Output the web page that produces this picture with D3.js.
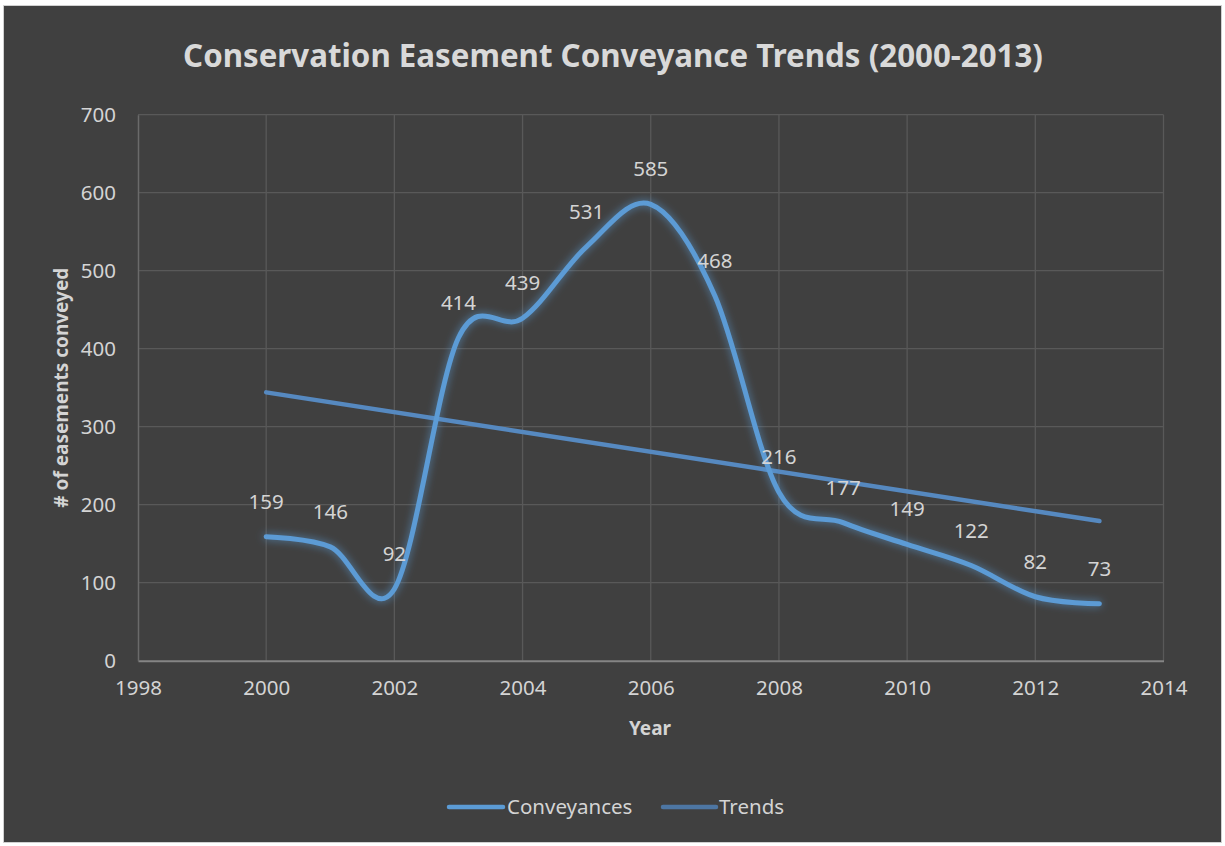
<!DOCTYPE html>
<html>
<head>
<meta charset="utf-8">
<script src="https://cdn.jsdelivr.net/npm/d3@7"></script>
<style>
  html, body { margin: 0; padding: 0; background: #ffffff; }
  svg { display: block; }
  text { font-family: "Noto Sans", "Open Sans", sans-serif; }
</style>
</head>
<body>
<svg id="chart" width="1225" height="846"></svg>
<script>
// ---- data ----
const years = [2000, 2001, 2002, 2003, 2004, 2005, 2006, 2007, 2008, 2009, 2010, 2011, 2012, 2013];
const conveyances = [159, 146, 92, 414, 439, 531, 585, 468, 216, 177, 149, 122, 82, 73];
const trendYears = [2000, 2013];
const trendValues = [344, 179];
const xTicks = [1998, 2000, 2002, 2004, 2006, 2008, 2010, 2012, 2014];
const yTicks = [0, 100, 200, 300, 400, 500, 600, 700];
const seriesNames = ["Conveyances", "Trends"];
const titleText = "Conservation Easement Conveyance Trends (2000-2013)";
const xTitle = "Year";
const yTitle = "# of easements conveyed";

// ---- layout ----
const svg = d3.select("#chart");
const bg = "#404040", textCol = "#d4d4d4", gridCol = "#595959";
const convCol = "#5b9bd5", trendCol = "#5689c0", trendLegendCol = "#4d76a3";

svg.append("rect").attr("x", 3.5).attr("y", 5.5).attr("width", 1218).attr("height", 837)
  .attr("fill", bg).attr("stroke", "#d0d0d0").attr("stroke-width", 1);

const defs = svg.append("defs");
const f = defs.append("filter").attr("id", "glow")
  .attr("x", "-10%").attr("y", "-10%").attr("width", "120%").attr("height", "120%");
f.append("feGaussianBlur").attr("in", "SourceGraphic").attr("stdDeviation", 4).attr("result", "blur");
f.append("feComponentTransfer").attr("in", "blur").attr("result", "glowA")
  .append("feFuncA").attr("type", "linear").attr("slope", 0.75);
const m = f.append("feMerge");
m.append("feMergeNode").attr("in", "glowA");
m.append("feMergeNode").attr("in", "SourceGraphic");

const x = d3.scaleLinear().domain([1998, 2014]).range([138, 1163.5]);
const y = d3.scaleLinear().domain([0, 700]).range([660.7, 114.7]);

// gridlines
const g = svg.append("g");
g.selectAll("line.h").data(yTicks.filter(d => d > 0)).join("line")
  .attr("x1", x(1998)).attr("x2", x(2014))
  .attr("y1", d => y(d)).attr("y2", d => y(d))
  .attr("stroke", gridCol).attr("stroke-width", 1.3);
g.selectAll("line.v").data(xTicks.filter(d => d > 1998)).join("line")
  .attr("y1", y(0)).attr("y2", y(700))
  .attr("x1", d => x(d)).attr("x2", d => x(d))
  .attr("stroke", gridCol).attr("stroke-width", 1.3);

// axes
const xAxis = d3.axisBottom(x).tickValues(xTicks).tickFormat(d3.format("d")).tickSize(0).tickPadding(20);
const xa = svg.append("g").attr("transform", `translate(0,${y(0)})`).call(xAxis);
xa.select(".domain").attr("stroke", "#858585").attr("stroke-width", 2);
xa.selectAll("text").attr("fill", textCol).attr("font-size", 20.5).attr("font-family", "Noto Sans");

const yAxis = d3.axisLeft(y).tickValues(yTicks).tickSize(0).tickPadding(22);
const ya = svg.append("g").attr("transform", `translate(${x(1998)},0)`).call(yAxis);
ya.select(".domain").attr("stroke", "#6a6a6a").attr("stroke-width", 1.5);
ya.selectAll("text").attr("fill", textCol).attr("font-size", 20.5).attr("font-family", "Noto Sans");

// trend line
const line = d3.line().x(d => x(d[0])).y(d => y(d[1]));
svg.append("path").datum(trendYears.map((yr, i) => [yr, trendValues[i]]))
  .attr("d", line).attr("fill", "none").attr("stroke", trendCol)
  .attr("stroke-width", 4.5).attr("stroke-linecap", "round");

// conveyances smoothed line
const smooth = d3.line().x(d => x(d[0])).y(d => y(d[1])).curve(d3.curveCatmullRom.alpha(0));
svg.append("path").datum(years.map((yr, i) => [yr, conveyances[i]]))
  .attr("d", smooth).attr("fill", "none").attr("stroke", convCol)
  .attr("stroke-width", 5).attr("stroke-linecap", "round").attr("filter", "url(#glow)");

// data labels
svg.append("g").selectAll("text").data(years).join("text")
  .attr("x", (d) => x(d)).attr("y", (d, i) => y(conveyances[i]) - 28)
  .attr("text-anchor", "middle").attr("fill", textCol).attr("font-size", 20.5)
  .text((d, i) => conveyances[i]);

// title
const t = svg.append("text").attr("x", 613).attr("y", 67).attr("text-anchor", "middle")
  .attr("fill", "#d9d9d9").attr("font-weight", "bold").attr("font-size", 34).text(titleText);
const tw = t.node().getComputedTextLength();
t.attr("font-size", 34 * 860 / tw);

// axis titles
svg.append("text").attr("x", 650).attr("y", 735).attr("text-anchor", "middle")
  .attr("fill", textCol).attr("font-weight", "bold").attr("font-size", 19).text(xTitle);
svg.append("text").attr("transform", `translate(68,${(y(0) + y(700)) / 2}) rotate(-90)`)
  .attr("text-anchor", "middle").attr("fill", textCol).attr("font-weight", "bold")
  .attr("font-size", 19).text(yTitle);

// legend
const leg = svg.append("g");
const legY = 807;
leg.append("line").attr("x1", 449).attr("x2", 503).attr("y1", legY).attr("y2", legY)
  .attr("stroke", convCol).attr("stroke-width", 4.5).attr("stroke-linecap", "round");
leg.append("text").attr("x", 507).attr("y", legY + 7).attr("fill", textCol).attr("font-size", 20.5).text(seriesNames[0]);
leg.append("line").attr("x1", 663).attr("x2", 716).attr("y1", legY).attr("y2", legY)
  .attr("stroke", trendLegendCol).attr("stroke-width", 4.5).attr("stroke-linecap", "round");
leg.append("text").attr("x", 719).attr("y", legY + 7).attr("fill", textCol).attr("font-size", 20.5).text(seriesNames[1]);
</script>
</body>
</html>
